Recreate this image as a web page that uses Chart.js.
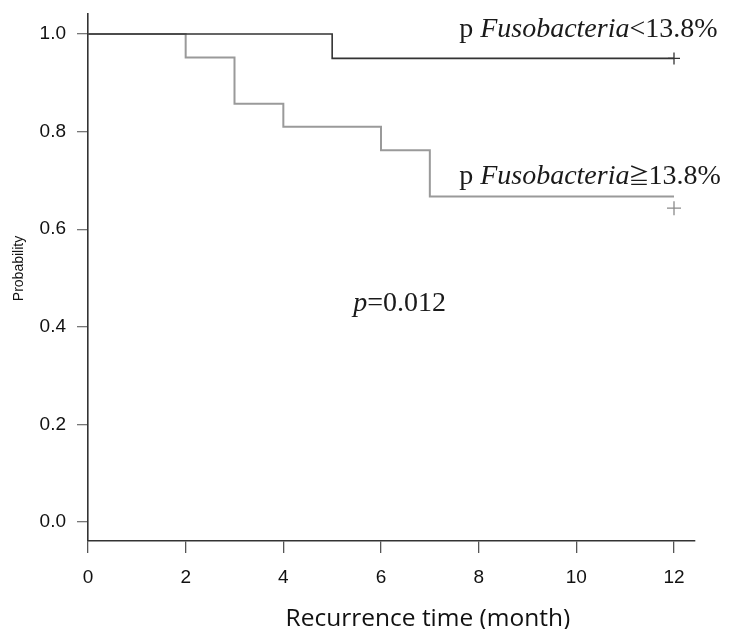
<!DOCTYPE html>
<html>
<head>
<meta charset="utf-8">
<script src="https://cdn.jsdelivr.net/npm/chart.js@4.4.1/dist/chart.umd.min.js"></script>
<style>
  html, body { margin: 0; padding: 0; background: #ffffff; }
  canvas { display: block; }
</style>
</head>
<body>
<canvas id="km" width="736" height="629"></canvas>
<script>
// ---- data ----
const lowTimes = [0, 5, 12];                       // p Fusobacteria < 13.8%
const lowSurvival = [1.0, 0.95, 0.95];
const highTimes = [0, 2, 3, 4, 6, 7, 12];           // p Fusobacteria >= 13.8%
const highSurvival = [1.0, 0.952, 0.857, 0.810, 0.762, 0.667, 0.667];
const lowCensorTimes = [12];
const lowCensorSurvival = [0.95];
const highCensorTimes = [12];
const highCensorSurvival = [0.643];
const xTickValues = [0, 2, 4, 6, 8, 10, 12];
const yTickValues = [0.0, 0.2, 0.4, 0.6, 0.8, 1.0];
const xTitle = 'Recurrence time (month)';
const yTitle = 'Probability';
const pValueText = '=0.012';

const toPoints = (xs, ys) => xs.map((x, i) => ({ x: x, y: ys[i] }));

const SERIF = '"Liberation Serif", "Times New Roman", "Noto Sans CJK JP", serif';
const SANS = '"Liberation Sans", Arial, sans-serif';
const SYMBOL_FONT = '21px "Noto Sans CJK JP", "DejaVu Sans", sans-serif';

// annotation anchors in data units
const annotations = [
  { x: 7.6, y: 0.994, parts: [['normal', 'p '], ['italic', 'Fusobacteria'], ['normal', '<13.8%']] },
  { x: 7.6, y: 0.692, parts: [['normal', 'p '], ['italic', 'Fusobacteria'], ['symbol', '\u2267'], ['normal', '13.8%']] },
  { x: 5.43, y: 0.432, parts: [['italic', 'p'], ['normal', pValueText]] }
];

const textPlugin = {
  id: 'kmText',
  afterDatasetsDraw(chart) {
    const ctx = chart.ctx;
    const xs = chart.scales.x, ys = chart.scales.y;
    ctx.save();
    ctx.fillStyle = '#1a1a1a';
    ctx.textBaseline = 'alphabetic';
    ctx.textAlign = 'left';
    annotations.forEach(a => {
      let px = xs.getPixelForValue(a.x);
      const py = ys.getPixelForValue(a.y);
      a.parts.forEach(([style, txt]) => {
        if (style === 'symbol') {
          ctx.font = SYMBOL_FONT;
          const w = ctx.measureText(txt).width;
          ctx.fillText(txt, px - 1, py - 1);
          px += w - 2;
        } else {
          ctx.font = style + ' 28px ' + SERIF;
          ctx.fillText(txt, px, py);
          px += ctx.measureText(txt).width;
        }
      });
    });
    // axis titles
    const area = chart.chartArea;
    ctx.fillStyle = '#111';
    ctx.font = '24.5px "Open Sans", sans-serif';
    ctx.textAlign = 'center';
    ctx.textBaseline = 'alphabetic';
    ctx.fillText(xTitle, area.left + (area.right - area.left) * 0.56, 626);
    ctx.save();
    ctx.translate(19, (area.top + area.bottom) / 2 - 9);
    ctx.rotate(-Math.PI / 2);
    ctx.font = '14px ' + SANS;
    ctx.textBaseline = 'middle';
    ctx.fillText(yTitle, 0, 0);
    ctx.restore();
    ctx.restore();
  }
};

new Chart(document.getElementById('km'), {
  type: 'line',
  data: {
    datasets: [
      {
        label: 'p Fusobacteria<13.8%',
        data: toPoints(lowTimes, lowSurvival),
        borderColor: '#333333',
        borderWidth: 1.6,
        stepped: true,
        pointRadius: 0,
        fill: false
      },
      {
        label: 'censor low',
        data: toPoints(lowCensorTimes, lowCensorSurvival),
        showLine: false,
        pointStyle: 'cross',
        pointRadius: 6,
        borderColor: '#333333',
        borderWidth: 1.3
      },
      {
        label: 'p Fusobacteria≧13.8%',
        data: toPoints(highTimes, highSurvival),
        borderColor: '#9a9a9a',
        borderWidth: 2,
        stepped: true,
        pointRadius: 0,
        fill: false
      },
      {
        label: 'censor high',
        data: toPoints(highCensorTimes, highCensorSurvival),
        showLine: false,
        pointStyle: 'cross',
        pointRadius: 7,
        borderColor: '#8a8a8a',
        borderWidth: 1.3
      }
    ]
  },
  options: {
    responsive: false,
    devicePixelRatio: 1,
    animation: false,
    events: [],
    layout: { padding: { top: 14, right: 41, bottom: 0, left: 0 } },
    plugins: { legend: { display: false }, tooltip: { enabled: false } },
    scales: {
      x: {
        type: 'linear',
        min: 0,
        max: 12.43,
        afterBuildTicks(scale) { scale.ticks = xTickValues.map(v => ({ value: v })); },
        afterFit(scale) { scale.height = 88; scale.paddingLeft = 0; scale.paddingRight = 0; },
        grid: { drawOnChartArea: false, drawTicks: true, tickLength: 12, color: '#555', lineWidth: 1.3 },
        border: { display: true, color: '#333', width: 1.6 },
        ticks: {
          font: { family: SANS, size: 19 },
          color: '#111',
          padding: 13,
          maxRotation: 0,
          callback: v => String(v)
        }
      },
      y: {
        type: 'linear',
        min: -0.039,
        max: 1.041,
        afterBuildTicks(scale) { scale.ticks = yTickValues.map(v => ({ value: v })); },
        afterFit(scale) { scale.width = 88; scale.paddingTop = 0; scale.paddingBottom = 0; },
        grid: { drawOnChartArea: false, drawTicks: true, tickLength: 11, color: '#777', lineWidth: 1.3 },
        border: { display: true, color: '#333', width: 1.6 },
        ticks: {
          font: { family: SANS, size: 19 },
          color: '#111',
          padding: 11,
          callback: v => Number(v).toFixed(1)
        }
      }
    }
  },
  plugins: [textPlugin]
});
</script>
</body>
</html>
